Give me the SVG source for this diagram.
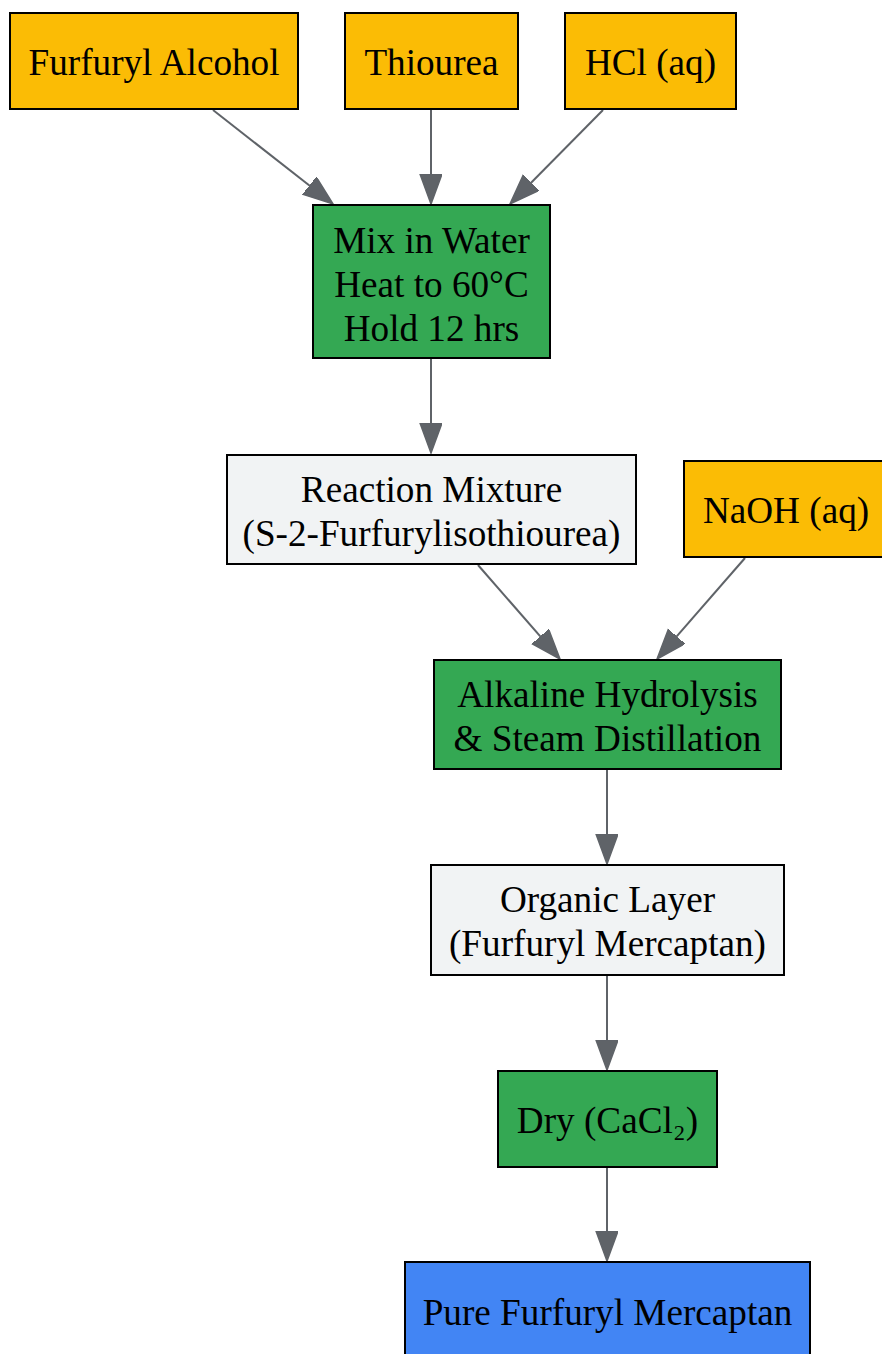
<svg xmlns="http://www.w3.org/2000/svg" width="882" height="1354" viewBox="0 0 882 1354">
<style>
.n rect{stroke:#000;stroke-width:2}
.y{fill:#FBBC05}.g{fill:#34A853}.l{fill:#F1F3F4}.b{fill:#4285F4}
text{font-family:"Liberation Serif","Times New Roman",serif;font-size:37.2px;fill:#000;text-anchor:middle}
#edges line{stroke:#5F6368;stroke-width:2;marker-end:url(#ah)}
</style>
<defs>
<marker id="ah" markerUnits="userSpaceOnUse" markerWidth="32" markerHeight="24" refX="0" refY="11" orient="auto" viewBox="0 0 32 24">
<path d="M0,0 L30,11 L0,22 z" fill="#5F6368" stroke="#5F6368" stroke-width="1.5"/>
</marker>
</defs>
<rect width="882" height="1354" fill="#fff"/>
<g id="edges">
<line x1="213" y1="110" x2="309.4" y2="185.5"/>
<line x1="431" y1="110" x2="431" y2="174"/>
<line x1="603" y1="110" x2="531.1" y2="182.7"/>
<line x1="431" y1="359" x2="431" y2="423"/>
<line x1="478" y1="565" x2="540.3" y2="636.4"/>
<line x1="745" y1="558" x2="676.7" y2="636.4"/>
<line x1="607" y1="770" x2="607" y2="834"/>
<line x1="607" y1="976" x2="607" y2="1040"/>
<line x1="607" y1="1168" x2="607" y2="1231"/>
</g>
<g id="furfuryl_alcohol" class="n"><rect class="y" x="10" y="13" width="288" height="96"/><text x="154" y="75">Furfuryl Alcohol</text></g>
<g id="thiourea" class="n"><rect class="y" x="345" y="13" width="173" height="96"/><text x="431.5" y="75">Thiourea</text></g>
<g id="hcl" class="n"><rect class="y" x="565" y="13" width="171" height="96"/><text x="650.5" y="75">HCl (aq)</text></g>
<g id="mix" class="n"><rect class="g" x="313" y="205" width="237" height="153"/><text x="431.5" y="252.5">Mix in Water</text><text x="431.5" y="296.5">Heat to 60°C</text><text x="431.5" y="340.5">Hold 12 hrs</text></g>
<g id="reaction_mixture" class="n"><rect class="l" x="227" y="455" width="409" height="109"/><text x="431.5" y="501.5">Reaction Mixture</text><text x="431.5" y="545.5">(S-2-Furfurylisothiourea)</text></g>
<g id="naoh" class="n"><rect class="y" x="684" y="461" width="204" height="96"/><text x="786" y="523">NaOH (aq)</text></g>
<g id="hydrolysis" class="n"><rect class="g" x="434" y="660" width="347" height="109"/><text x="607.5" y="706.5">Alkaline Hydrolysis</text><text x="607.5" y="750.5">&amp; Steam Distillation</text></g>
<g id="organic_layer" class="n"><rect class="l" x="431" y="865" width="353" height="110"/><text x="607.5" y="911.5">Organic Layer</text><text x="607.5" y="955.5">(Furfuryl Mercaptan)</text></g>
<g id="dry" class="n"><rect class="g" x="498" y="1071" width="219" height="96"/><text x="607.5" y="1133">Dry (CaCl₂)</text></g>
<g id="pure" class="n"><rect class="b" x="405" y="1262" width="405" height="100"/><text x="607.5" y="1325">Pure Furfuryl Mercaptan</text></g>
</svg>
